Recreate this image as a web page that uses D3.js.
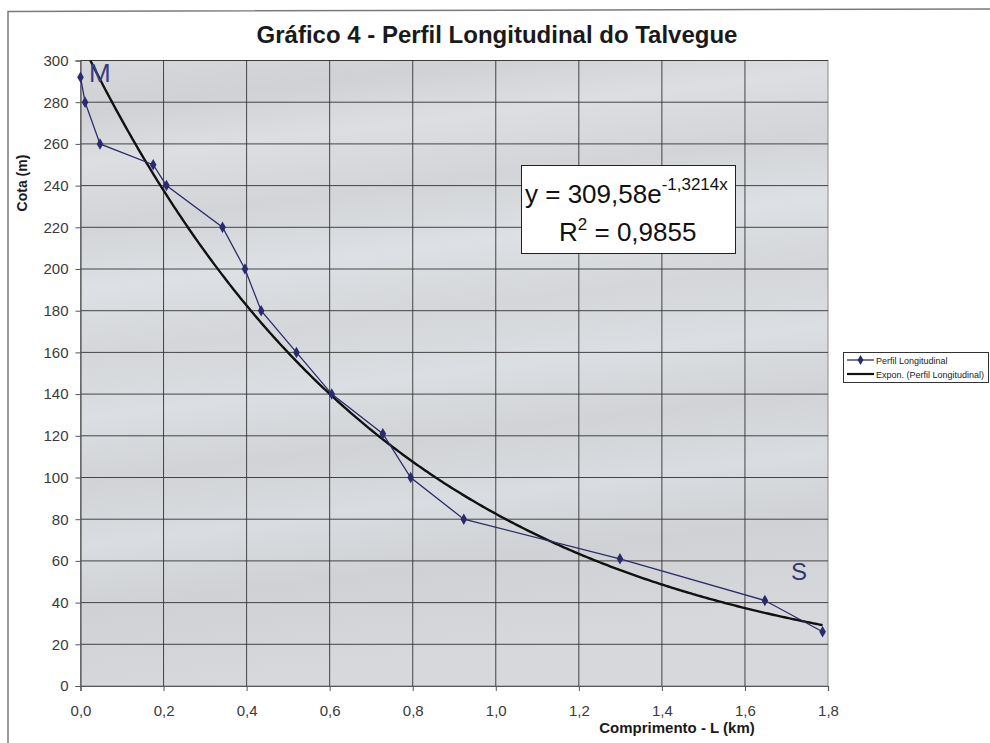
<!DOCTYPE html>
<html>
<head>
<meta charset="utf-8">
<script src="https://cdn.jsdelivr.net/npm/d3@7"></script>
<style>
  body { margin: 0; background: #fff; }
  svg { display: block; font-family: "Liberation Sans", Arial, sans-serif; }
</style>
</head>
<body>
<svg id="chart" width="990" height="743"></svg>
<script>
// Perfil longitudinal - distancia (km) e cota (m)
const distancias = [0, 0.011, 0.047, 0.175, 0.207, 0.342, 0.396, 0.435, 0.52, 0.605, 0.728, 0.795, 0.923, 1.299, 1.648, 1.787];
const cotas = [292, 280, 260, 250, 240, 220, 200, 180, 160, 140, 121, 100, 80, 61, 41, 26];

// Linha de tendencia exponencial (Excel)
const trendA = 309.58;
const trendB = -1.3214;

const xTicks = [0, 0.2, 0.4, 0.6, 0.8, 1.0, 1.2, 1.4, 1.6, 1.8];
const yTicks = [0, 20, 40, 60, 80, 100, 120, 140, 160, 180, 200, 220, 240, 260, 280, 300];

const svg = d3.select("#chart");

// Plot area
const plot = { left: 80.5, right: 828, top: 60.5, bottom: 686 };

const x = d3.scaleLinear().domain([0, 1.8]).range([plot.left, plot.right]);
const y = d3.scaleLinear().domain([0, 300]).range([plot.bottom, plot.top]);

const commaFmt = d => d3.format(".1f")(d).replace(".", ",");

// outer chart border (scanned)
svg.append("path")
    .attr("d", "M8,743 L8,11.5 L990,9")
    .attr("fill", "none")
    .attr("stroke", "#7a7a7a")
    .attr("stroke-width", 1.5);

// Background of plot area - light grayish cloudy look
let defs = svg.append("defs");
let grad = defs.append("linearGradient")
    .attr("id", "bg")
    .attr("x1", 0).attr("y1", 0).attr("x2", 0.15).attr("y2", 1);
[["0", "#d6d8db"], ["0.08", "#cfd1d4"], ["0.16", "#dcdee2"], ["0.26", "#d2d4d7"],
 ["0.36", "#dde0e4"], ["0.46", "#d4d6d9"], ["0.56", "#dbdee2"], ["0.66", "#d1d3d6"],
 ["0.76", "#d9dce0"], ["0.86", "#cfd1d4"], ["1", "#d6d8db"]].forEach(function (s) {
    grad.append("stop").attr("offset", s[0]).attr("stop-color", s[1]);
});

defs.append("clipPath").attr("id", "plotClip")
    .append("rect")
    .attr("x", plot.left).attr("y", plot.top)
    .attr("width", plot.right - plot.left).attr("height", plot.bottom - plot.top);

svg.append("rect")
    .attr("x", plot.left).attr("y", plot.top)
    .attr("width", plot.right - plot.left)
    .attr("height", plot.bottom - plot.top)
    .attr("fill", "url(#bg)")
    .attr("stroke", "#8a8a8a")
    .attr("stroke-width", 1);

// Gridlines
svg.append("g")
    .attr("class", "grid")
    .selectAll("line.h")
    .data(yTicks.slice(1))
    .enter().append("line")
    .attr("x1", plot.left).attr("x2", plot.right)
    .attr("y1", d => y(d)).attr("y2", d => y(d))
    .attr("stroke", "#333")
    .attr("stroke-width", 0.9);

svg.append("g")
    .attr("class", "grid")
    .selectAll("line.v")
    .data(xTicks.slice(1, -1))
    .enter().append("line")
    .attr("x1", d => x(d)).attr("x2", d => x(d))
    .attr("y1", plot.top).attr("y2", plot.bottom)
    .attr("stroke", "#333")
    .attr("stroke-width", 0.9);

// Axes
let xAxis = svg.append("g")
    .attr("transform", "translate(0," + plot.bottom + ")")
    .call(d3.axisBottom(x).tickValues(xTicks).tickFormat(commaFmt).tickSize(5).tickPadding(14));

let yAxis = svg.append("g")
    .attr("transform", "translate(" + plot.left + ",0)")
    .call(d3.axisLeft(y).tickValues(yTicks).tickSize(5).tickPadding(7));

[xAxis, yAxis].forEach(function (a) {
    a.select(".domain").attr("stroke", "#555").attr("stroke-width", 1.2);
    a.selectAll(".tick line").attr("stroke", "#555");
    a.selectAll(".tick text")
        .attr("fill", "#3a3a3a")
        .style("font-size", "15px")
        .style("font-family", "'Liberation Sans', Arial, sans-serif");
});

// Trend line (exponencial), clipped to plot
let trendPts = d3.range(0, 1.787 + 1e-9, 0.005).map(d => [d, trendA * Math.exp(trendB * d)]);
trendPts.push([1.787, trendA * Math.exp(trendB * 1.787)]);

let lineGen = d3.line()
    .x(d => x(d[0]))
    .y(d => y(d[1]));

svg.append("path")
    .datum(trendPts)
    .attr("clip-path", "url(#plotClip)")
    .attr("fill", "none")
    .attr("stroke", "#111")
    .attr("stroke-width", 2.4)
    .attr("d", lineGen);

// Data series
let series = distancias.map((d, i) => [d, cotas[i]]);

svg.append("path")
    .datum(series)
    .attr("fill", "none")
    .attr("stroke", "#2c2c6a")
    .attr("stroke-width", 1.3)
    .attr("d", lineGen);

svg.append("g")
    .selectAll("path")
    .data(series)
    .enter().append("path")
    .attr("transform", d => "translate(" + x(d[0]) + "," + y(d[1]) + ")")
    .attr("d", d3.symbol().type(d3.symbolDiamond).size(38))
    .attr("fill", "#2a2a6e");

// M and S labels
svg.append("text")
    .attr("x", 89).attr("y", 82)
    .attr("fill", "#3a3a80")
    .style("font-size", "26px")
    .text("M");

svg.append("text")
    .attr("x", 791).attr("y", 580)
    .attr("fill", "#35356e")
    .style("font-size", "24px")
    .text("S");

// Title
svg.append("text")
    .attr("x", 497).attr("y", 43)
    .attr("text-anchor", "middle")
    .attr("fill", "#1a1a1a")
    .style("font-size", "24px")
    .style("font-weight", "bold")
    .text("Gráfico 4 - Perfil Longitudinal do Talvegue");

// Axis titles
svg.append("text")
    .attr("transform", "translate(27,183) rotate(-90)")
    .attr("text-anchor", "middle")
    .attr("fill", "#1a1a1a")
    .style("font-size", "14px")
    .style("font-weight", "bold")
    .text("Cota (m)");

svg.append("text")
    .attr("x", 677).attr("y", 733)
    .attr("text-anchor", "middle")
    .attr("fill", "#1a1a1a")
    .style("font-size", "15px")
    .style("font-weight", "bold")
    .text("Comprimento - L (km)");

// Equation box
svg.append("rect")
    .attr("x", 521.5).attr("y", 165.5)
    .attr("width", 214).attr("height", 88)
    .attr("fill", "#fff")
    .attr("stroke", "#222")
    .attr("stroke-width", 1);

let eq = svg.append("text")
    .attr("x", 525).attr("y", 203)
    .attr("fill", "#111")
    .style("font-size", "26px");
eq.append("tspan").text("y = 309,58e");
eq.append("tspan").attr("dy", -13).style("font-size", "17px").text("-1,3214x");

let r2 = svg.append("text")
    .attr("x", 559).attr("y", 241)
    .attr("fill", "#111")
    .style("font-size", "26px");
r2.append("tspan").text("R");
r2.append("tspan").attr("dy", -11).style("font-size", "17px").text("2");
r2.append("tspan").attr("dy", 11).text(" = 0,9855");

// Legend
let legend = svg.append("g");
legend.append("rect")
    .attr("x", 843.5).attr("y", 352.5)
    .attr("width", 145).attr("height", 30)
    .attr("fill", "#fff")
    .attr("stroke", "#333")
    .attr("stroke-width", 1);

legend.append("line")
    .attr("x1", 847).attr("x2", 874).attr("y1", 360).attr("y2", 360)
    .attr("stroke", "#2c2c6a").attr("stroke-width", 1.3);
legend.append("path")
    .attr("transform", "translate(860.5,360)")
    .attr("d", d3.symbol().type(d3.symbolDiamond).size(30))
    .attr("fill", "#2a2a6e");
legend.append("text")
    .attr("x", 876).attr("y", 363.5)
    .attr("fill", "#222")
    .style("font-size", "9px")
    .text("Perfil Longitudinal");

legend.append("line")
    .attr("x1", 847).attr("x2", 874).attr("y1", 374).attr("y2", 374)
    .attr("stroke", "#111").attr("stroke-width", 2.2);
legend.append("text")
    .attr("x", 876).attr("y", 377.5)
    .attr("fill", "#222")
    .style("font-size", "9px")
    .text("Expon. (Perfil Longitudinal)");
</script>
</body>
</html>
